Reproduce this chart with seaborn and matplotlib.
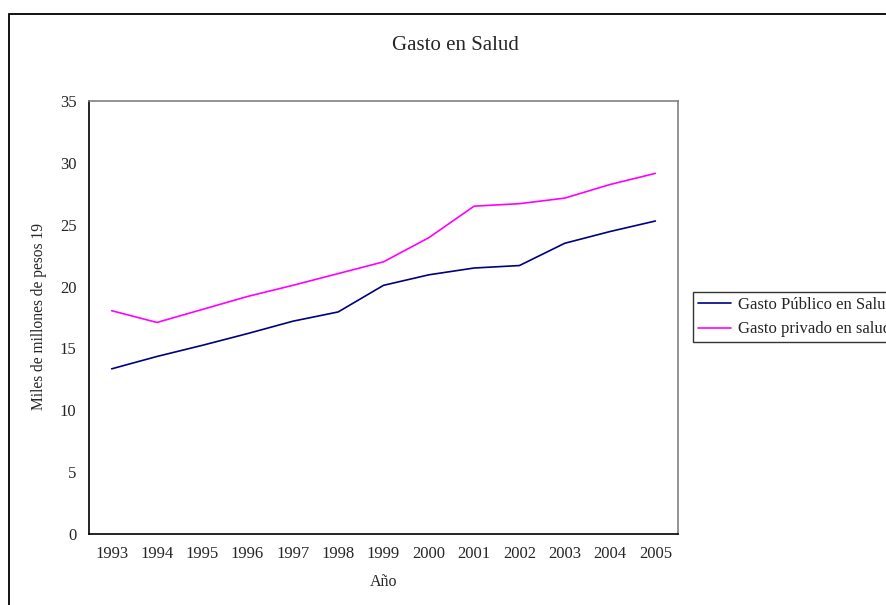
import matplotlib
matplotlib.use("Agg")
import matplotlib.pyplot as plt
import matplotlib.patches as mpatches
import matplotlib.transforms as mtransforms
import numpy as np
import pandas as pd
import seaborn as sns

years = ["1993", "1994", "1995", "1996", "1997", "1998", "1999",
         "2000", "2001", "2002", "2003", "2004", "2005"]
gasto_publico = [13.35, 14.35, 15.25, 16.2, 17.2, 17.95, 20.1,
                 20.95, 21.5, 21.7, 23.5, 24.45, 25.3]
gasto_privado = [18.05, 17.1, 18.15, 19.2, 20.1, 21.05, 22.0,
                 23.95, 26.5, 26.7, 27.15, 28.25, 29.15]
series_names = ["Gasto Público en Salud", "Gasto privado en salud"]
y_ticks = [0, 5, 10, 15, 20, 25, 30, 35]

df = pd.DataFrame({
    "idx": list(range(len(years))) * 2,
    "valor": gasto_publico + gasto_privado,
    "serie": [series_names[0]] * len(years) + [series_names[1]] * len(years),
})

sns.set_style("white")
plt.rcParams["font.family"] = ["Liberation Serif", "DejaVu Serif"]

W, H = 886, 605
fig = plt.figure(figsize=(W / 100, H / 100), dpi=100)
ax = fig.add_axes([89 / W, 1 - 534 / H, (678 - 89) / W, (534 - 101) / H])

palette = {series_names[0]: "#000080", series_names[1]: "#FF00FF"}
sns.lineplot(data=df, x="idx", y="valor", hue="serie", palette=palette,
             linewidth=1.2, ax=ax, legend=False)

ax.set_xlim(-0.5, len(years) - 0.5)
ax.set_ylim(0, 35)
ax.set_yticks(y_ticks)
ax.set_yticklabels([str(t) for t in y_ticks], fontsize=12)
ax.set_xticks(np.arange(len(years)))
ax.set_xticklabels(years, fontsize=12)
ax.set_xticks(np.arange(len(years) + 1) - 0.5, minor=True)
ax.tick_params(axis="x", which="major", length=0, pad=9)
ax.tick_params(axis="x", which="minor", length=5, width=1, color="black", direction="out")
ax.tick_params(axis="y", length=5, width=1, color="black", direction="out", pad=4)
ax.set_xlabel("")
ax.set_ylabel("")

for s in ["top", "right"]:
    ax.spines[s].set_color("#808080")
    ax.spines[s].set_linewidth(1.2)
for s in ["left", "bottom"]:
    ax.spines[s].set_color("black")
    ax.spines[s].set_linewidth(1.2)

# Titles and labels
fig.text(455 / W, 1 - 46 / H, "Gasto en Salud", ha="center", va="center", fontsize=15)
fig.text(384 / W, 1 - 582 / H, "Año", ha="center", va="center", fontsize=11.5)

yl = fig.text(39 / W, 1 - 410 / H, "Miles de millones de pesos 1998", rotation=90,
              rotation_mode="anchor", ha="left", va="center", fontsize=11.2)
clip_bbox = mtransforms.TransformedBbox(
    mtransforms.Bbox([[0, 0], [0.2, 1 - 224 / H]]), fig.transFigure)
yl.set_clip_box(clip_bbox)
yl.set_clip_on(True)

# Outer chart border
border = mpatches.Rectangle((9 / W, -0.1), 1.2, 1 - 14 / H + 0.1, transform=fig.transFigure,
                            fill=False, edgecolor="black", linewidth=1.3)
fig.add_artist(border)

# Legend
handles = [plt.Line2D([], [], color=palette[n], linewidth=1.2) for n in series_names]
leg = fig.legend(handles, series_names, loc="upper left",
                 bbox_to_anchor=(693 / W, 1 - 292 / H), fontsize=12,
                 frameon=True, fancybox=False, handlelength=2.0, handletextpad=0.4,
                 borderpad=0.3, labelspacing=0.5, borderaxespad=0)
leg.get_frame().set_edgecolor("black")
leg.get_frame().set_linewidth(1.0)

fig.savefig("out.png", dpi=100)
